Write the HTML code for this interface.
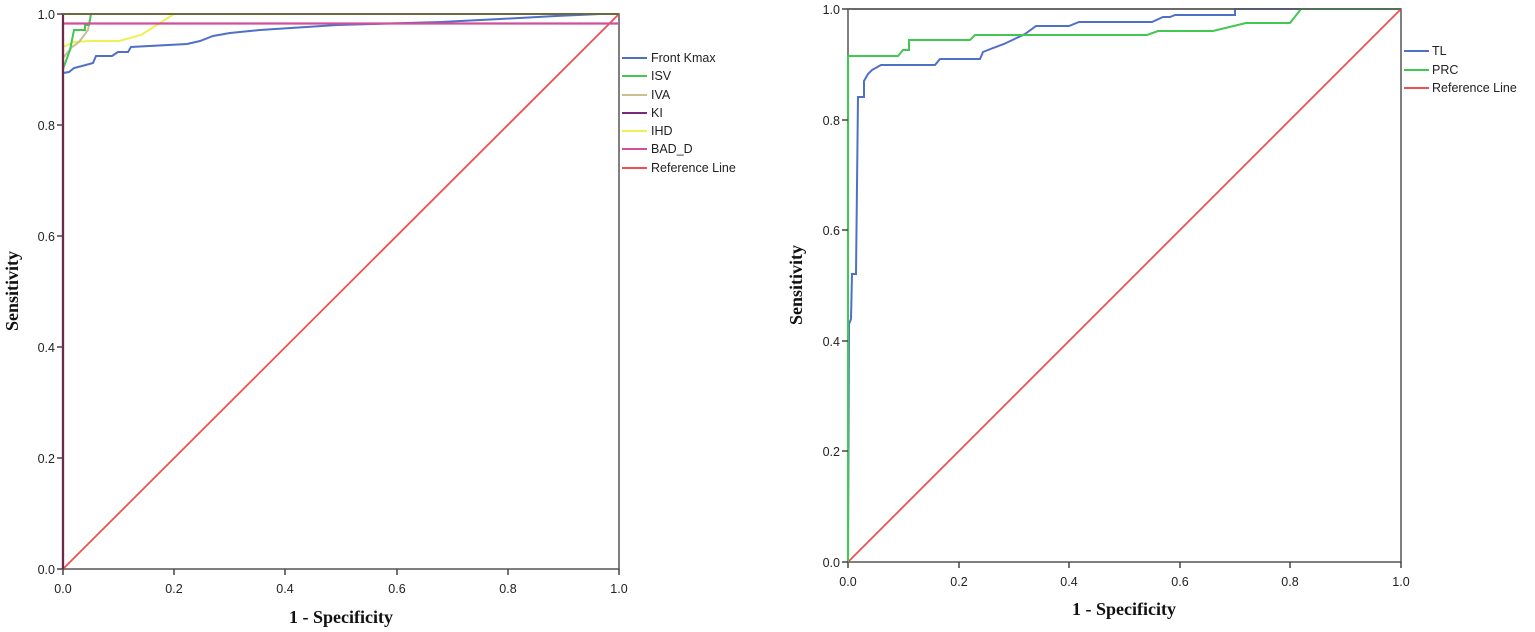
<!DOCTYPE html>
<html><head><meta charset="utf-8"><style>
html,body{margin:0;padding:0;background:#fff;width:1535px;height:632px;overflow:hidden}
svg text{font-family:"Liberation Sans",Arial,sans-serif;font-size:12.5px;fill:#222}
.ax{font-family:"Liberation Serif",serif;font-weight:bold;font-size:18px;fill:#111}
.tk{font-family:"Liberation Sans",sans-serif;font-size:12.5px;fill:#333}
</style></head><body>
<svg width="1535" height="632" xmlns="http://www.w3.org/2000/svg" fill="none">
<!-- LEFT -->
<g id="L">
<rect x="63" y="14" width="556" height="555" stroke="#555" stroke-width="1.5"/>
<line x1="63" y1="569" x2="619" y2="14" stroke="#f05050" stroke-width="1.8"/>
<!-- Front Kmax -->
<polyline points="63,569 63,73 69,72 74,68 82,66 93,63 96,56 112,56 118,52 128,52 131,47 187,44 200,41 213,36 230,33 260,30 337,25 441,22 500,19 556,16 600,14 619,14" stroke="#5070c8" stroke-width="2"/>
<!-- IHD -->
<polyline points="63,569 63,47 74,42 91,41 119,41 141,35 157,25 174,14 619,14" stroke="#f0f050" stroke-width="2"/>
<!-- IVA -->
<polyline points="63,569 63,58 72,47 79,42 88,30 91,14 619,14" stroke="#c8c090" stroke-width="2"/>
<!-- ISV -->
<polyline points="63,569 63,69 70,50 74,30 85,30 85,25 89,25 91,14 619,14" stroke="#40c850" stroke-width="2"/>
<!-- BAD_D -->
<polyline points="63,569 63,23.5 619,23.5" stroke="#d0509a" stroke-width="2.2"/>
<!-- KI -->
<polyline points="63,569 63,14" stroke="#6a2a4a" stroke-width="2.2"/>
<line x1="63" y1="14" x2="619" y2="14" stroke="#6a6a40" stroke-width="2"/>
<g stroke="#444" stroke-width="1.5">
<line x1="57" y1="569" x2="63" y2="569"/><line x1="57" y1="458" x2="63" y2="458"/><line x1="57" y1="347" x2="63" y2="347"/><line x1="57" y1="236" x2="63" y2="236"/><line x1="57" y1="125" x2="63" y2="125"/><line x1="57" y1="14" x2="63" y2="14"/>
<line x1="63" y1="569" x2="63" y2="575"/><line x1="174" y1="569" x2="174" y2="575"/><line x1="285" y1="569" x2="285" y2="575"/><line x1="397" y1="569" x2="397" y2="575"/><line x1="508" y1="569" x2="508" y2="575"/><line x1="619" y1="569" x2="619" y2="575"/>
</g>
<g class="tk" text-anchor="end">
<text x="55" y="574">0.0</text><text x="55" y="463">0.2</text><text x="55" y="352">0.4</text><text x="55" y="241">0.6</text><text x="55" y="130">0.8</text><text x="55" y="19">1.0</text>
</g>
<g class="tk" text-anchor="middle">
<text x="63" y="593">0.0</text><text x="174" y="593">0.2</text><text x="285" y="593">0.4</text><text x="397" y="593">0.6</text><text x="508" y="593">0.8</text><text x="619" y="593">1.0</text>
</g>
<text class="ax" x="341" y="623" text-anchor="middle">1 - Specificity</text>
<text class="ax" transform="translate(18,291) rotate(-90)" text-anchor="middle">Sensitivity</text>
<g stroke-width="2">
<line x1="622" y1="58" x2="647" y2="58" stroke="#5070c8"/>
<line x1="622" y1="76" x2="647" y2="76" stroke="#40c850"/>
<line x1="622" y1="95" x2="647" y2="95" stroke="#c8c090"/>
<line x1="622" y1="113" x2="647" y2="113" stroke="#7a2a7a"/>
<line x1="622" y1="131" x2="647" y2="131" stroke="#f0f050"/>
<line x1="622" y1="149" x2="647" y2="149" stroke="#d0509a"/>
<line x1="622" y1="168" x2="647" y2="168" stroke="#f05050"/>
</g>
<text x="651" y="62">Front Kmax</text><text x="651" y="80">ISV</text><text x="651" y="99">IVA</text><text x="651" y="117">KI</text><text x="651" y="135">IHD</text><text x="651" y="153">BAD_D</text><text x="651" y="172">Reference Line</text>
</g>
<!-- RIGHT -->
<g id="R">
<rect x="848" y="9" width="553" height="553" stroke="#555" stroke-width="1.5"/>
<line x1="848" y1="562" x2="1401" y2="9" stroke="#f05050" stroke-width="1.8"/>
<polyline points="848,562 849,324 851,319 852,274 856,274 858,97 864,97 864,81 868,74 872,70 881,65 894,65 935,65 940,59 980,59 983,52 993,48 1004,44 1025,34 1036,26 1069,26 1079,22 1152,22 1163,17 1170,17 1175,15 1235,15 1235,9 1401,9" stroke="#5070c8" stroke-width="2"/>
<polyline points="848,562 848,56 898,56 903,50 909,50 909,40 970,40 975,35 1147,35 1158,31 1213,31 1246,23 1290,23 1301,9 1401,9" stroke="#40c850" stroke-width="2"/>
<line x1="848" y1="9" x2="1401" y2="9" stroke="#555" stroke-width="1.5"/>
<g stroke="#444" stroke-width="1.5">
<line x1="842" y1="562" x2="848" y2="562"/><line x1="842" y1="451" x2="848" y2="451"/><line x1="842" y1="341" x2="848" y2="341"/><line x1="842" y1="230" x2="848" y2="230"/><line x1="842" y1="120" x2="848" y2="120"/><line x1="842" y1="9" x2="848" y2="9"/>
<line x1="848" y1="562" x2="848" y2="568"/><line x1="959" y1="562" x2="959" y2="568"/><line x1="1069" y1="562" x2="1069" y2="568"/><line x1="1180" y1="562" x2="1180" y2="568"/><line x1="1290" y1="562" x2="1290" y2="568"/><line x1="1401" y1="562" x2="1401" y2="568"/>
</g>
<g class="tk" text-anchor="end">
<text x="840" y="567">0.0</text><text x="840" y="456">0.2</text><text x="840" y="346">0.4</text><text x="840" y="235">0.6</text><text x="840" y="125">0.8</text><text x="840" y="14">1.0</text>
</g>
<g class="tk" text-anchor="middle">
<text x="848" y="586">0.0</text><text x="959" y="586">0.2</text><text x="1069" y="586">0.4</text><text x="1180" y="586">0.6</text><text x="1290" y="586">0.8</text><text x="1401" y="586">1.0</text>
</g>
<text class="ax" x="1124" y="615" text-anchor="middle">1 - Specificity</text>
<text class="ax" transform="translate(802,285) rotate(-90)" text-anchor="middle">Sensitivity</text>
<g stroke-width="2">
<line x1="1404" y1="51" x2="1429" y2="51" stroke="#5070c8"/>
<line x1="1404" y1="70" x2="1429" y2="70" stroke="#40c850"/>
<line x1="1404" y1="88" x2="1429" y2="88" stroke="#f05050"/>
</g>
<text x="1432" y="55">TL</text><text x="1432" y="74">PRC</text><text x="1432" y="92">Reference Line</text>
</g>
</svg>
</body></html>
